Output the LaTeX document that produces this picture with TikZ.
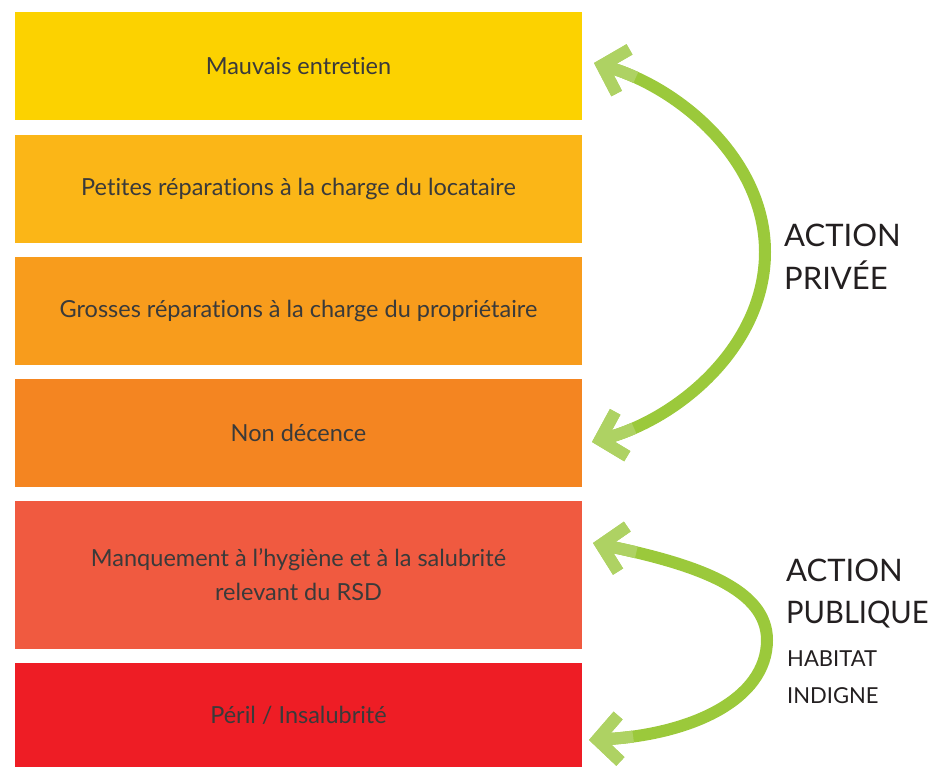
\documentclass[tikz,border=0pt]{standalone}
\usepackage{graphicx}
\usepackage{fontspec}
\setmainfont{Lato}[Ligatures={NoCommon}]
\usetikzlibrary{arrows.meta}
\definecolor{cA}{HTML}{FCD200}
\definecolor{cB}{HTML}{FBB617}
\definecolor{cC}{HTML}{F89C1C}
\definecolor{cD}{HTML}{F48521}
\definecolor{cE}{HTML}{F05A40}
\definecolor{cF}{HTML}{EE1D25}
\definecolor{grn}{HTML}{9BC93B}
\definecolor{lgrn}{HTML}{AED263}
\definecolor{txt}{HTML}{3A3A3A}
\definecolor{hdr}{HTML}{231F20}
\tikzset{
  box/.style={draw=none, minimum width=567pt, inner sep=0pt, text=txt,
    font=\fontsize{23.5}{34}\selectfont, align=center},
  hdrbig/.style={anchor=base west, inner sep=0pt, text=hdr, font=\fontsize{31}{38}\selectfont},
  hdrsmall/.style={anchor=base west, inner sep=0pt, text=hdr, font=\fontsize{22}{26}\selectfont},
  barb/.style={{Straight Barb[sharp, length=22pt, width=46pt, color=lgrn]}-},
  arcmain/.style={draw=grn, line width=12pt, barb},
  arclight/.style={draw=lgrn, line width=12pt, barb, dash pattern=on 30pt off 2000pt},
}
\begin{document}
\begin{tikzpicture}[x=1pt,y=-1pt]
\useasboundingbox (0,0) rectangle (938,767);
\node[box, fill=cA, minimum height=108pt] (b1) at (298.5,66) {Mauvais entretien};
\node[box, fill=cB, minimum height=108pt] (b2) at (298.5,189) {Petites réparations à la charge du locataire};
\node[box, fill=cC, minimum height=108pt] (b3) at (298.5,311) {Grosses réparations à la charge du propriétaire};
\node[box, fill=cD, minimum height=108pt] (b4) at (298.5,433) {Non décence};
\node[box, fill=cE, minimum height=148pt] (b5) at (298.5,575) {Manquement à l’hygiène et à la salubrité\\relevant du RSD};
\node[box, fill=cF, minimum height=104pt] (b6) at (298.5,715) {Péril / Insalubrité};

\coordinate (tA) at (594,63);
\coordinate (rA) at (765,252);
\coordinate (tB) at (592,442);
\coordinate (tC) at (593,543);
\coordinate (rC) at (767,640);
\coordinate (tD) at (589,740);

\foreach \s in {arcmain, arclight}{
  \draw[\s] (tA) .. controls (680,88) and (765,160) .. (rA);
  \draw[\s] (tB) .. controls (680,418) and (765,345) .. (rA);
  \draw[\s] (tC) .. controls (700,565) and (767,590) .. (rC);
  \draw[\s] (tD) .. controls (690,735) and (767,700) .. (rC);
}

\node[hdrbig] (p1) at (784,247) {ACTION};
\node[hdrbig] (p2) at (784,290) {PRIVÉE};
\node[hdrbig] (q1) at (786,581) {ACTION};
\node[hdrbig] (q2) at (786,623) {\scalebox{0.94}[1]{PUBLIQUE}};
\node[hdrsmall] (q3) at (787,666) {HABITAT};
\node[hdrsmall] (q4) at (787,703) {INDIGNE};
\end{tikzpicture}
\end{document}
